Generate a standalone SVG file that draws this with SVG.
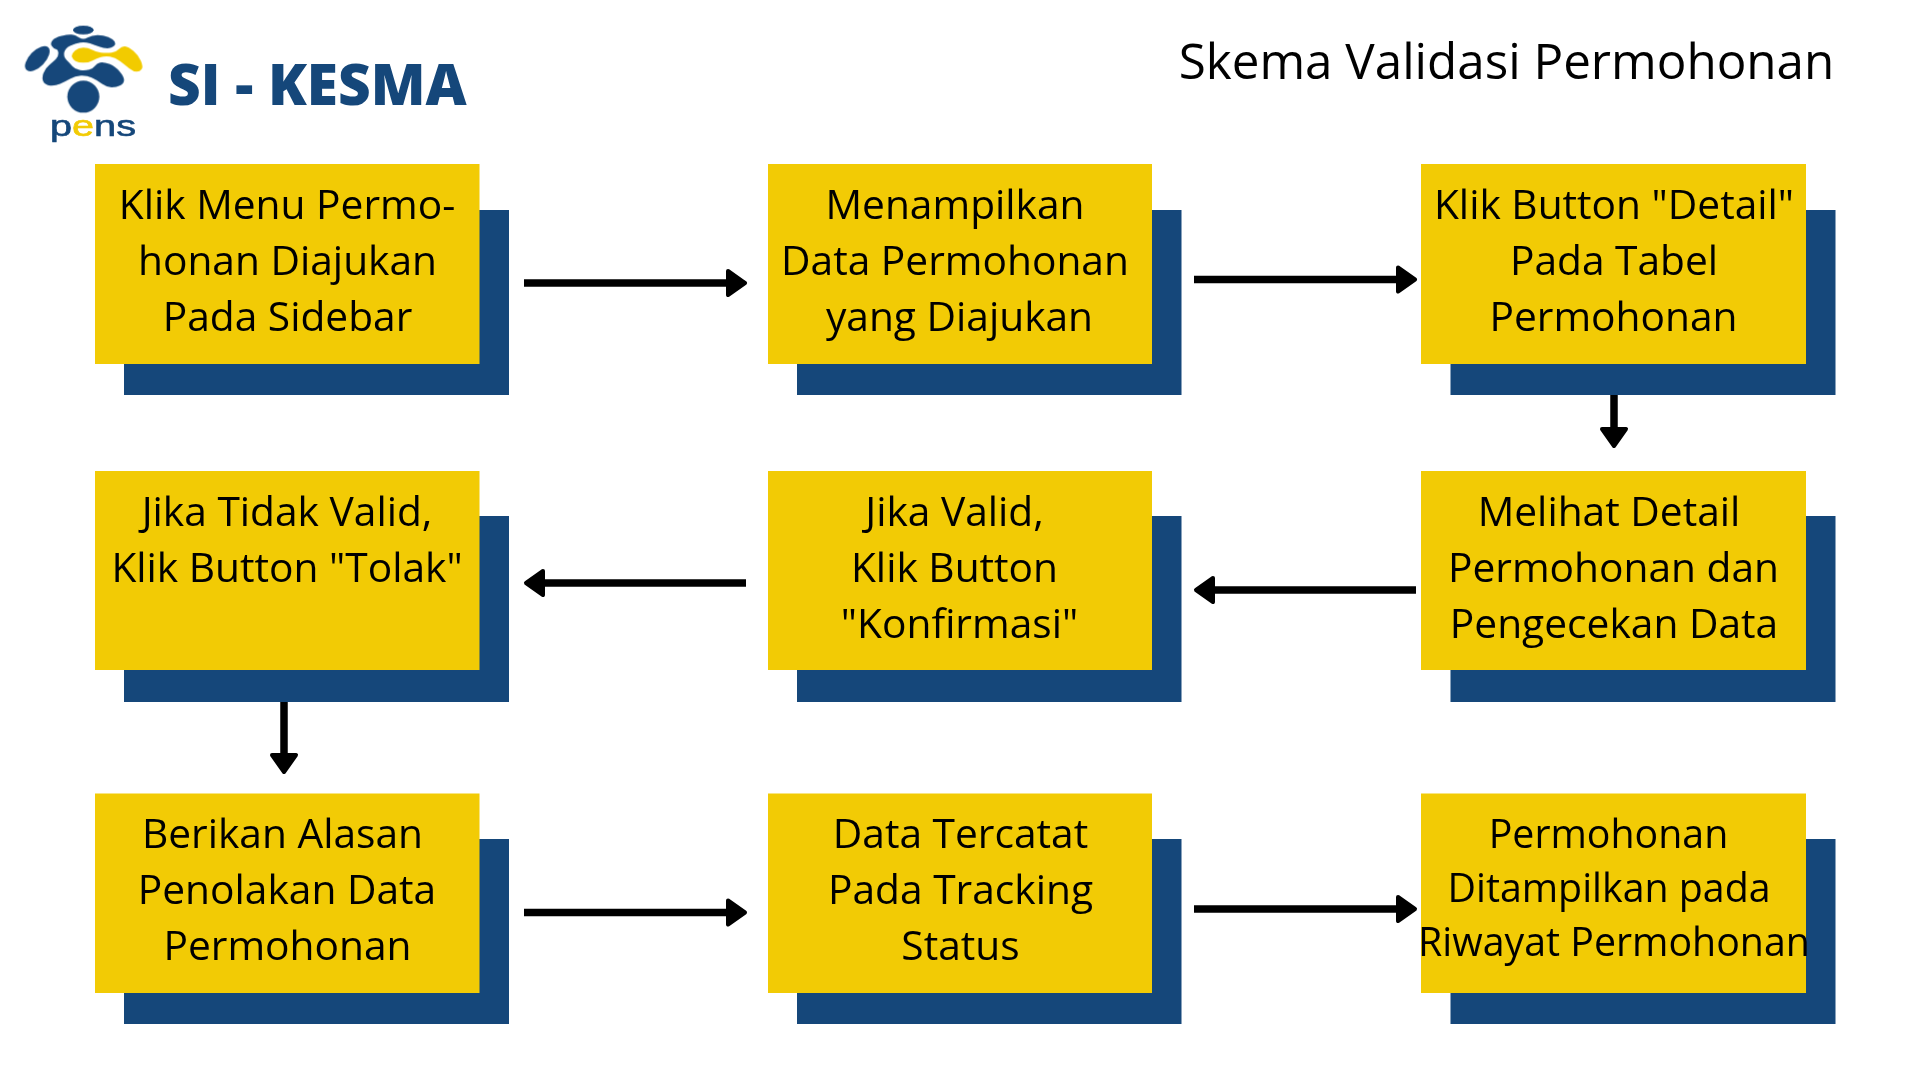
<svg xmlns="http://www.w3.org/2000/svg" width="1920" height="1080" viewBox="0 0 1920 1080">
<style>
.box{fill:#f2cb05}
.sh{fill:#15477a}
.t{font-family:"Open Sans","Noto Sans",sans-serif;font-size:40.7px;fill:#000;text-anchor:middle}
.l{font-size:39.3px}
.ln{stroke:#000;stroke-width:7.5;fill:none}
.hd{fill:#000;stroke:#000;stroke-width:4;stroke-linejoin:round}
</style>
<defs><filter id="soft" x="-5%" y="-5%" width="110%" height="110%"><feGaussianBlur stdDeviation="0.5"/></filter></defs>
<rect width="1920" height="1080" fill="#fff"/>
<g id="logo">
<g id="logo-mark" transform="scale(0.33333)" filter="url(#soft)">
<ellipse cx="250" cy="90" rx="31" ry="13" class="sh"/>
<ellipse cx="112" cy="176" rx="47" ry="24" transform="rotate(-46 112 176)" class="sh"/>
<circle cx="250" cy="290" r="48" class="sh"/>
<path class="sh" d="M155,137.5 Q150,130 157.5,121 Q165,112 185,107.5 Q205,103 215,104 Q225,105 237.5,112.5 Q250,120 262.5,112.5 Q275,105 292.5,105 Q310,105 325,111.5 Q340,118 344,125 Q348,132 341.5,138.5 Q335,145 322.5,145 Q310,145 297.5,140 Q285,135 270,130 Q255,125 240,127.5 Q225,130 210,137.5 Q195,145 192.5,157.5 Q190,170 200,180 Q210,190 217.5,199 Q225,208 240,210 Q255,212 267.5,208.5 Q280,205 285,197.5 Q290,190 300,187.5 Q310,185 327.5,191.5 Q345,198 358.5,214 Q372,230 372,240 Q372,250 361,256 Q350,262 335,262 Q320,262 305,251 Q290,240 275,233 Q260,226 242.5,227 Q225,228 210,236.5 Q195,245 180,251.5 Q165,258 150,256.5 Q135,255 130,245 Q125,235 130,220 Q135,205 147.5,195 Q160,185 167.5,177.5 Q175,170 175,160 Q175,150 167.5,147.5 Q160,145 155,137.5 Z"/>
<path class="box" d="M215,169 Q215,160 225,151.5 Q235,143 250,143 Q265,143 275,149 Q285,155 302.5,157.5 Q320,160 335,157.5 Q350,155 357.5,146.5 Q365,138 375,139 Q385,140 400,152.5 Q415,165 422.5,182.5 Q430,200 425,207.5 Q420,215 410,215 Q400,215 387.5,205 Q375,195 360,183.5 Q345,172 330,170 Q315,168 302.5,171.5 Q290,175 277.5,181.5 Q265,188 250,188 Q235,188 226.5,183 Q218,178 215,169 Z"/>
</g>
<text x="50" y="136" font-family="'Liberation Sans',sans-serif" font-size="29" stroke="#15477a" stroke-width="0.6" fill="#15477a" textLength="86" lengthAdjust="spacingAndGlyphs">p<tspan fill="#f2cb05" stroke="#f2cb05">e</tspan>ns</text>
<text x="168" y="105" font-family="'Open Sans',sans-serif" font-weight="800" font-size="56.7" fill="#15477a">SI - KESMA</text>
</g>
<text id="title" x="1506.5" y="78.5" font-family="'Open Sans',sans-serif" font-size="49.35" fill="#000" text-anchor="middle">Skema Validasi Permohonan</text>

<g id="connectors">
<line class="ln" x1="524" y1="283" x2="735" y2="283"/><path class="hd" d="M728,271 L745,283 L728,295 Z"/>
<line class="ln" x1="1194" y1="279.5" x2="1406" y2="279.5"/><path class="hd" d="M1398,267.5 L1415,279.5 L1398,291.5 Z"/>
<line class="ln" x1="1614" y1="395" x2="1614" y2="437"/><path class="hd" d="M1602,429 L1614,446 L1626,429 Z"/>
<line class="ln" x1="1416" y1="590" x2="1205" y2="590"/><path class="hd" d="M1213,578 L1196,590 L1213,602 Z"/>
<line class="ln" x1="746" y1="583" x2="535" y2="583"/><path class="hd" d="M543,571 L526,583 L543,595 Z"/>
<line class="ln" x1="284" y1="701" x2="284" y2="763"/><path class="hd" d="M272,755 L284,772 L296,755 Z"/>
<line class="ln" x1="524" y1="912.5" x2="735" y2="912.5"/><path class="hd" d="M728,900.5 L745,912.5 L728,924.5 Z"/>
<line class="ln" x1="1194" y1="909" x2="1406" y2="909"/><path class="hd" d="M1398,897 L1415,909 L1398,921 Z"/>
</g>

<g id="n1"><rect class="sh" x="124" y="210" width="385" height="185"/><rect class="box" x="95" y="164" width="384.5" height="200"/>
<text class="t" x="287" y="219">Klik Menu Permo-</text><text class="t" x="287.5" y="275">honan Diajukan</text><text class="t" x="287.5" y="331">Pada Sidebar</text></g>
<g id="n2"><rect class="sh" x="797" y="210" width="384.5" height="185"/><rect class="box" x="768" y="164" width="384" height="200"/>
<text class="t" x="955" y="219">Menampilkan</text><text class="t" x="955" y="275">Data Permohonan</text><text class="t" x="959.5" y="331">yang Diajukan</text></g>
<g id="n3"><rect class="sh" x="1450.5" y="210" width="385" height="185"/><rect class="box" x="1421" y="164" width="385" height="200"/>
<text class="t" x="1614" y="219">Klik Button "Detail"</text><text class="t" x="1614" y="275">Pada Tabel</text><text class="t" x="1613.5" y="331">Permohonan</text></g>
<g id="n4"><rect class="sh" x="124" y="516" width="385" height="186"/><rect class="box" x="95" y="471" width="384.5" height="199"/>
<text class="t" x="287" y="526">Jika Tidak Valid,</text><text class="t" x="287" y="582">Klik Button "Tolak"</text></g>
<g id="n5"><rect class="sh" x="797" y="516" width="384.5" height="186"/><rect class="box" x="768" y="471" width="384" height="199"/>
<text class="t" x="954.5" y="526">Jika Valid,</text><text class="t" x="954.5" y="582">Klik Button</text><text class="t" x="959.5" y="638">"Konfirmasi"</text></g>
<g id="n6"><rect class="sh" x="1450.5" y="516" width="385" height="186"/><rect class="box" x="1421" y="471" width="385" height="199"/>
<text class="t" x="1609" y="526">Melihat Detail</text><text class="t" x="1613.5" y="582">Permohonan dan</text><text class="t" x="1614" y="638">Pengecekan Data</text></g>
<g id="n7"><rect class="sh" x="124" y="839" width="385" height="185"/><rect class="box" x="95" y="793.5" width="384.5" height="199.5"/>
<text class="t" x="282.5" y="848">Berikan Alasan</text><text class="t" x="287" y="904">Penolakan Data</text><text class="t" x="287.5" y="960">Permohonan</text></g>
<g id="n8"><rect class="sh" x="797" y="839" width="384.5" height="185"/><rect class="box" x="768" y="793.5" width="384" height="199.5"/>
<text class="t" x="960.5" y="848">Data Tercatat</text><text class="t" x="960.5" y="904">Pada Tracking</text><text class="t" x="960.5" y="960">Status</text></g>
<g id="n9"><rect class="sh" x="1450.5" y="839" width="385" height="185"/><rect class="box" x="1421" y="793.5" width="385" height="199.5"/>
<text class="t l" x="1608.5" y="848">Permohonan</text><text class="t l" x="1609" y="902">Ditampilkan pada</text><text class="t l" x="1614" y="956">Riwayat Permohonan</text></g>
</svg>
